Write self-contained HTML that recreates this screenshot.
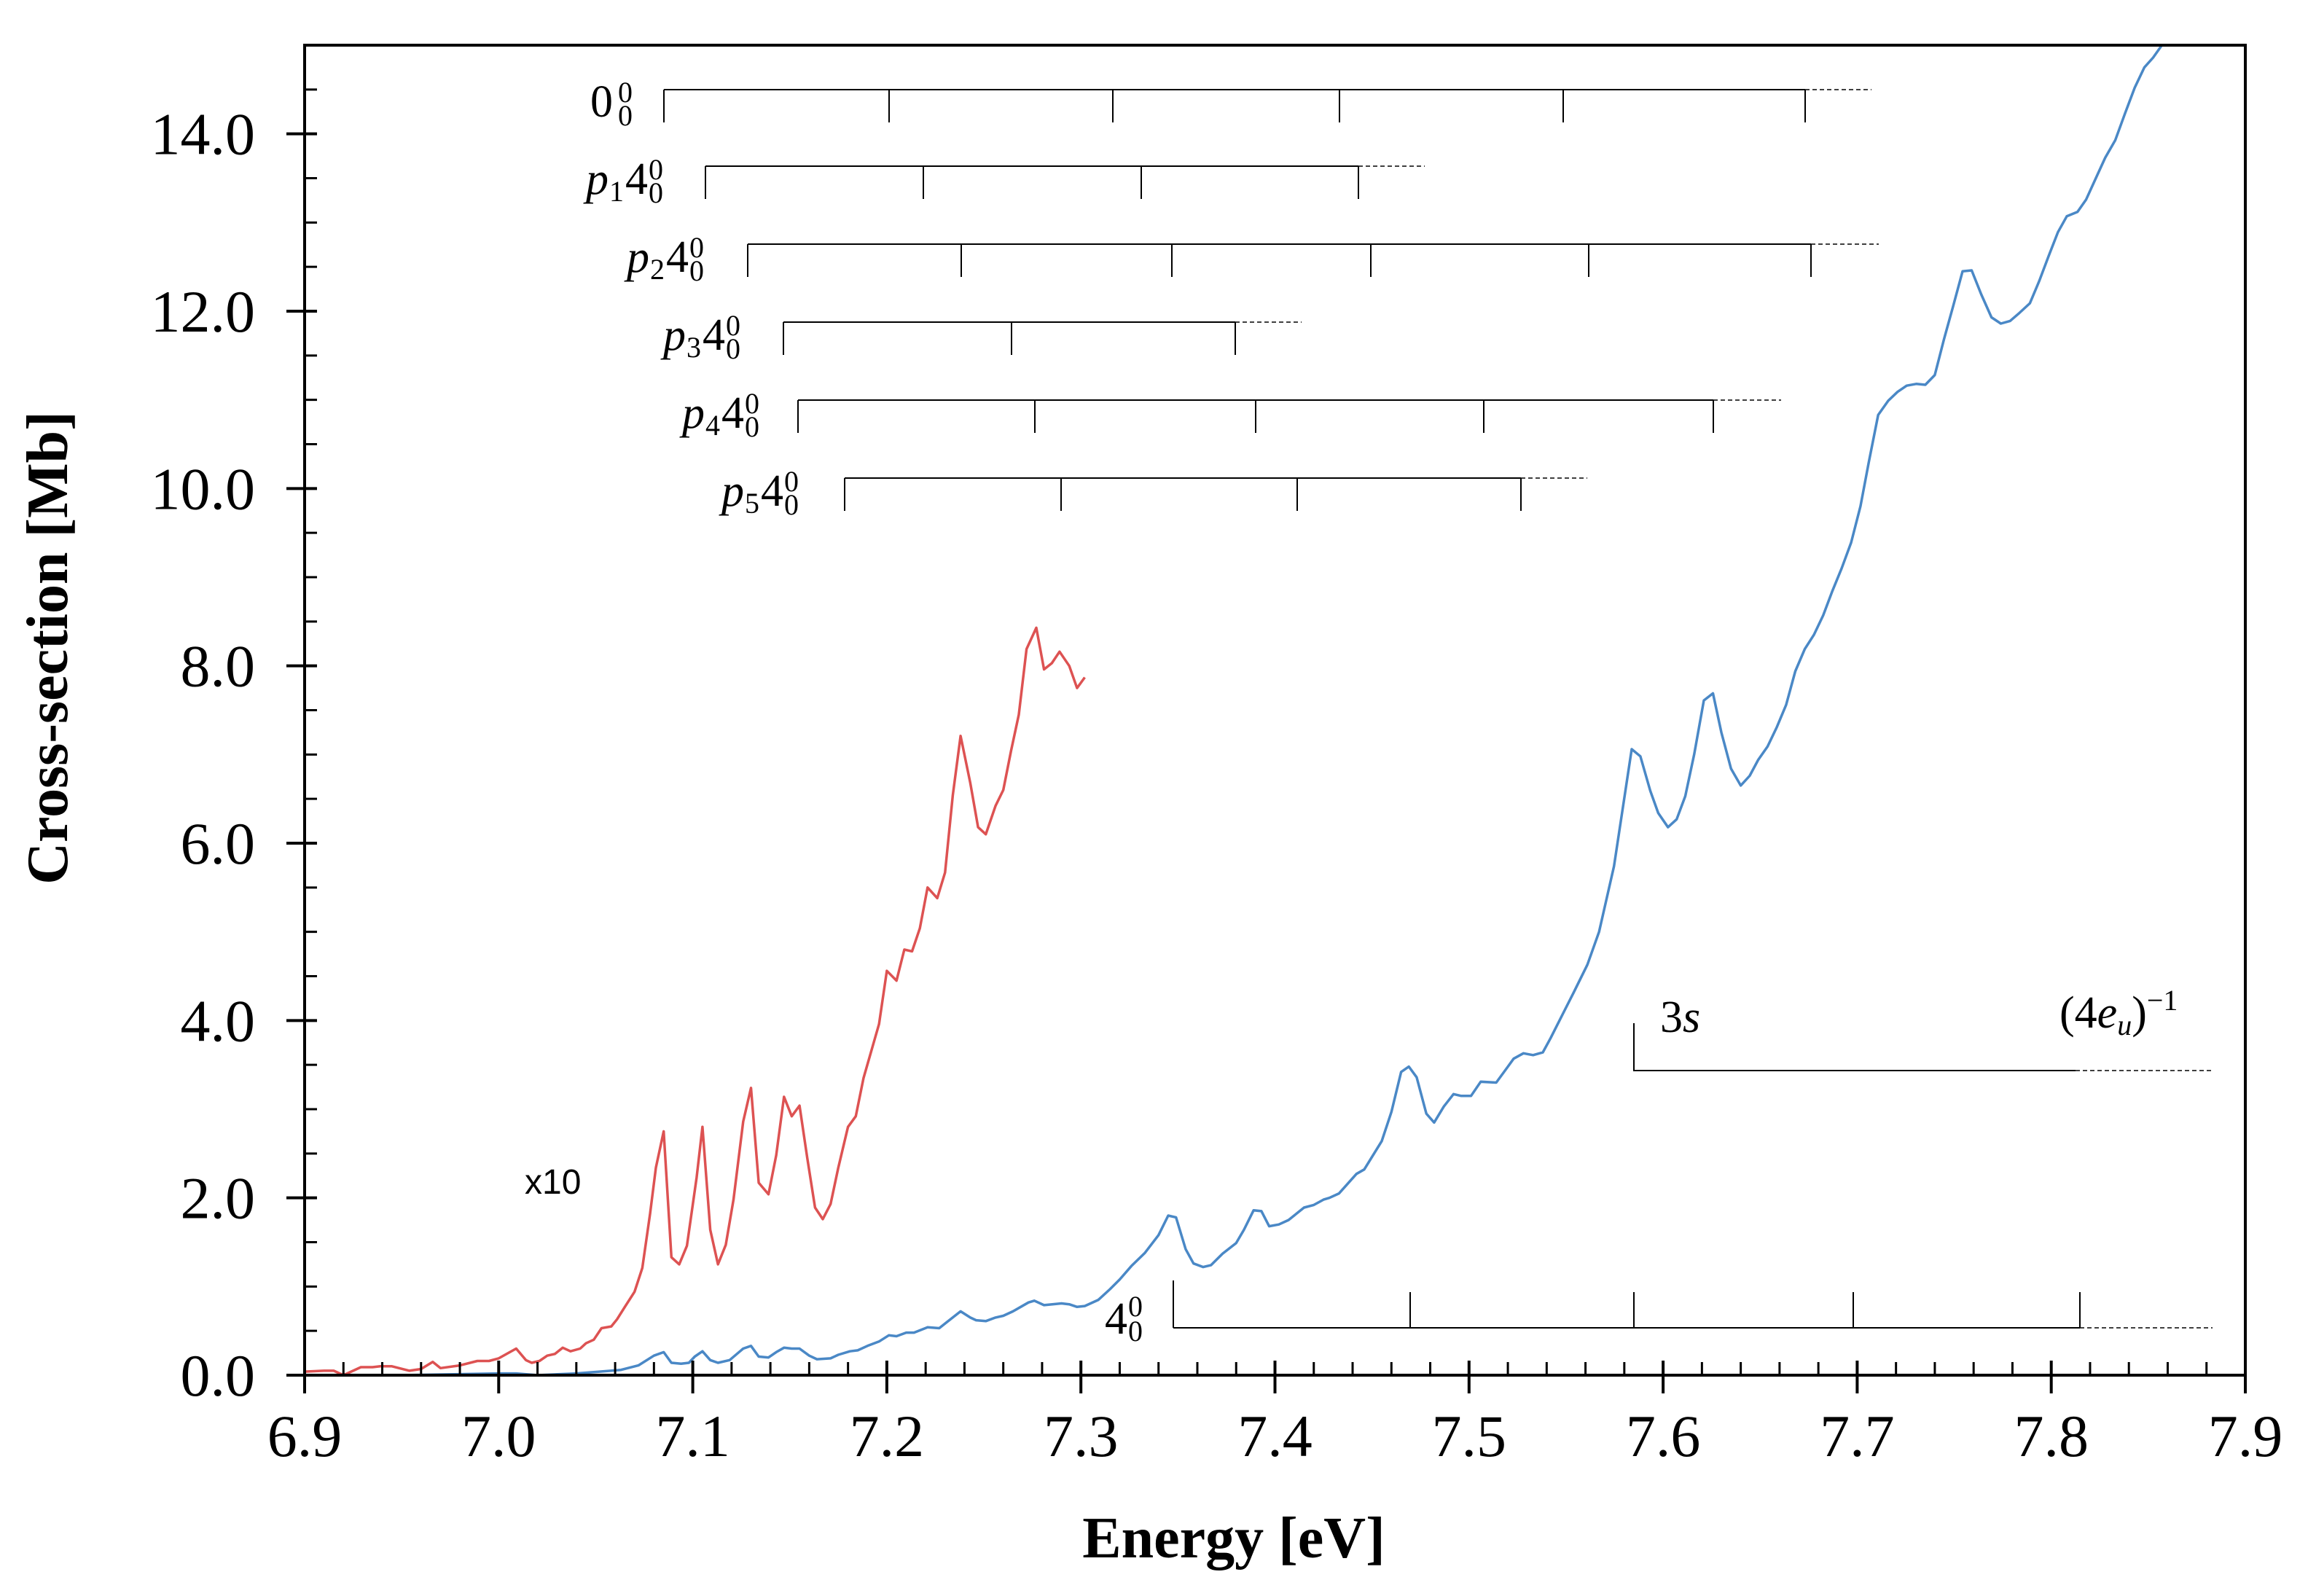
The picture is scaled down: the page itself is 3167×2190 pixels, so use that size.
<!DOCTYPE html>
<html><head><meta charset="utf-8"><title>Cross-section vs Energy</title>
<style>
html,body{margin:0;padding:0;background:#fff;}
svg{display:block;}
</style></head>
<body>
<svg id="chart" width="3167" height="2190" viewBox="0 0 3167 2190" xmlns="http://www.w3.org/2000/svg" font-family="'Liberation Serif', serif"></svg>
<script>
const redE=[6.9,6.91,6.915,6.92,6.929,6.935,6.939,6.945,6.954,6.96,6.966,6.97,6.98,6.989,6.995,7.0,7.009,7.014,7.017,7.021,7.025,7.029,7.033,7.037,7.042,7.045,7.049,7.053,7.058,7.061,7.065,7.070,7.074,7.078,7.081,7.085,7.089,7.093,7.097,7.102,7.105,7.109,7.113,7.117,7.121,7.126,7.130,7.134,7.139,7.143,7.147,7.151,7.155,7.159,7.163,7.167,7.171,7.175,7.180,7.184,7.188,7.196,7.200,7.205,7.209,7.213,7.217,7.221,7.226,7.230,7.234,7.238,7.243,7.247,7.251,7.256,7.260,7.264,7.268,7.272,7.277,7.281,7.285,7.289,7.294,7.298,7.302];
const redV=[0.04,0.05,0.05,0.0,0.09,0.09,0.1,0.1,0.05,0.07,0.15,0.08,0.11,0.16,0.16,0.19,0.3,0.17,0.14,0.16,0.22,0.24,0.31,0.27,0.3,0.36,0.4,0.53,0.55,0.63,0.77,0.94,1.21,1.82,2.34,2.75,1.33,1.25,1.46,2.23,2.8,1.64,1.25,1.47,1.98,2.86,3.24,2.17,2.04,2.48,3.14,2.92,3.04,2.45,1.89,1.76,1.93,2.34,2.8,2.92,3.35,3.96,4.56,4.45,4.8,4.78,5.04,5.5,5.38,5.67,6.54,7.21,6.68,6.18,6.1,6.42,6.6,7.04,7.45,8.19,8.43,7.96,8.03,8.16,8.0,7.75,7.87];
const blueE=[6.9,6.95,7.0,7.009,7.02,7.04,7.052,7.063,7.072,7.08,7.085,7.089,7.094,7.098,7.101,7.105,7.109,7.113,7.119,7.126,7.130,7.134,7.139,7.143,7.147,7.151,7.155,7.160,7.164,7.171,7.175,7.181,7.185,7.190,7.196,7.201,7.205,7.210,7.214,7.221,7.227,7.231,7.238,7.243,7.246,7.251,7.256,7.260,7.265,7.269,7.273,7.276,7.281,7.29,7.294,7.298,7.302,7.309,7.315,7.32,7.326,7.333,7.340,7.345,7.349,7.354,7.358,7.363,7.367,7.373,7.380,7.384,7.389,7.393,7.397,7.402,7.407,7.415,7.420,7.425,7.428,7.433,7.442,7.446,7.455,7.460,7.465,7.469,7.473,7.478,7.482,7.487,7.492,7.496,7.501,7.506,7.514,7.520,7.523,7.528,7.533,7.538,7.542,7.548,7.554,7.561,7.567,7.5747,7.5838,7.5883,7.5934,7.5975,7.6025,7.607,7.6114,7.616,7.621,7.6257,7.630,7.635,7.640,7.6446,7.649,7.6538,7.6586,7.6634,7.6681,7.673,7.6777,7.6825,7.6873,7.692,7.6969,7.7017,7.706,7.7108,7.716,7.7208,7.7255,7.7304,7.7351,7.74,7.7447,7.7495,7.7543,7.759,7.7639,7.7692,7.774,7.7788,7.7836,7.789,7.7938,7.7986,7.8034,7.808,7.8135,7.818,7.823,7.8278,7.833,7.838,7.843,7.848,7.8525,7.857];
const blueV=[0.0,0.0,0.02,0.02,0.0,0.02,0.04,0.06,0.11,0.22,0.26,0.14,0.13,0.14,0.21,0.27,0.17,0.14,0.17,0.3,0.33,0.21,0.2,0.26,0.31,0.3,0.3,0.22,0.18,0.19,0.23,0.27,0.28,0.33,0.38,0.45,0.44,0.48,0.48,0.54,0.53,0.6,0.72,0.65,0.62,0.61,0.65,0.67,0.72,0.77,0.82,0.84,0.79,0.81,0.8,0.77,0.78,0.85,0.97,1.08,1.23,1.38,1.58,1.8,1.78,1.42,1.26,1.22,1.24,1.37,1.49,1.64,1.86,1.85,1.68,1.7,1.75,1.89,1.92,1.98,2.0,2.05,2.27,2.32,2.64,2.97,3.42,3.48,3.36,2.95,2.85,3.03,3.17,3.15,3.15,3.31,3.3,3.48,3.57,3.63,3.61,3.64,3.8,4.06,4.32,4.63,5.0,5.74,7.06,6.98,6.59,6.34,6.18,6.27,6.53,7.0,7.61,7.69,7.25,6.84,6.65,6.76,6.94,7.09,7.31,7.56,7.94,8.19,8.35,8.57,8.85,9.1,9.39,9.8,10.3,10.83,10.99,11.09,11.16,11.18,11.17,11.28,11.68,12.06,12.45,12.46,12.19,11.93,11.86,11.89,11.98,12.09,12.34,12.62,12.89,13.07,13.12,13.26,13.5,13.73,13.93,14.23,14.52,14.75,14.86,15.0];
const xTickLabels=["6.9","7.0","7.1","7.2","7.3","7.4","7.5","7.6","7.7","7.8","7.9"];
const yTickLabels=["0.0","2.0","4.0","6.0","8.0","10.0","12.0","14.0"];

const NS="http://www.w3.org/2000/svg";
const svg=document.getElementById('chart');
const L=418,R=3081,T=62,B=1887,X0=6.9,X1=7.9,Y1=15;
function xs(e){return L+(e-X0)/(X1-X0)*(R-L);}
function ys(v){return B-v/Y1*(B-T);}
function mk(tag,attrs,parent){const el=document.createElementNS(NS,tag);for(const k in attrs)el.setAttribute(k,attrs[k]);(parent||svg).appendChild(el);return el;}

function series(E,V,color,w,name){
  let d='';E.forEach((e,i)=>{d+=(i?'L':'M')+xs(e).toFixed(1)+' '+ys(Math.min(V[i],Y1)).toFixed(1);});
  const p=mk('path',{d:d,fill:'none',stroke:color,'stroke-width':w,'stroke-linejoin':'round'});
  
  
}
series(blueE,blueV,'#4a88c6',3.5,'blue-cross-section-line');
series(redE,redV,'#dd5252',3.5,'red-x10-line');

const frame=mk('rect',{x:L,y:T,width:R-L,height:B-T,fill:'none',stroke:'#000','stroke-width':4});



for(let i=0;i<=50;i++){
  const e=X0+i*0.02,x=xs(e),major=i%5===0;
  const t=mk('line',{x1:x,x2:x,y1:major?B-20:B-18,y2:major?B+25:B,stroke:'#000','stroke-width':major?4:3});
  
  
}
xTickLabels.forEach((lab,i)=>{
  const tx=mk('text',{x:xs(X0+i*0.1),y:1998,'font-size':82,'text-anchor':'middle',fill:'#000'});
  tx.textContent=lab;
  
  
});
for(let i=0;i<=30;i++){
  const v=i*0.5,y=ys(v),major=i%4===0;
  if(v>Y1)break;
  const t=mk('line',{x1:major?L-25:L,x2:L+17,y1:y,y2:y,stroke:'#000','stroke-width':major?4:3});
  
  
}
yTickLabels.forEach((lab,i)=>{
  const tx=mk('text',{x:350,y:ys(i*2)+28,'font-size':82,'text-anchor':'end',fill:'#000'});
  tx.textContent=lab;
  
  
});
</script>
<svg style="position:absolute;left:0;top:0" width="3167" height="2190" viewBox="0 0 3167 2190" font-family="'Liberation Serif', serif">
<text x="1693" y="2137" font-size="80" font-weight="bold" text-anchor="middle">Energy [eV]</text>
<text transform="translate(92,889) rotate(-90)" font-size="80" font-weight="bold" text-anchor="middle">Cross-section [Mb]</text>
<text x="720" y="1638" font-size="48" font-family="'Liberation Sans', sans-serif">x10</text>
<g stroke="#000" stroke-width="2" fill="none">
<path d="M911 123H2477M911 123V168M1220 123V168M1527 123V168M1838 123V168M2145 123V168M2477 123V168"/>
<path d="M968 228H1864M968 228V273M1267 228V273M1566 228V273M1864 228V273"/>
<path d="M1026 335H2485M1026 335V380M1319 335V380M1608 335V380M1881 335V380M2180 335V380M2485 335V380"/>
<path d="M1075 442H1695M1075 442V487M1388 442V487M1695 442V487"/>
<path d="M1095 549H2351M1095 549V594M1420 549V594M1723 549V594M2036 549V594M2351 549V594"/>
<path d="M1159 656H2087M1159 656V701M1456 656V701M1780 656V701M2087 656V701"/>
<path d="M1610 1822H2854M1610 1757V1822M1935 1773V1822M2242 1773V1822M2543 1773V1822M2854 1773V1822"/>
<path d="M2242 1404V1469H2848"/>
</g>
<g stroke="#000" stroke-width="1.5" stroke-dasharray="6 4" fill="none">
<path d="M2477 123H2568M1864 228H1955M2485 335H2578M1695 442H1786M2351 549H2444M2087 656H2178M2854 1822H3036M2848 1469H3034"/>
</g>
<g font-size="62" fill="#000">
<text x="810" y="160">0</text><text x="848" y="140" font-size="40">0</text><text x="848" y="172" font-size="40">0</text>
<text x="804" y="266" font-style="italic">p</text><text x="836" y="276" font-size="40">1</text><text x="858" y="266">4</text><text x="890" y="246" font-size="40">0</text><text x="890" y="278" font-size="40">0</text>
<text x="860" y="373" font-style="italic">p</text><text x="892" y="383" font-size="40">2</text><text x="914" y="373">4</text><text x="946" y="353" font-size="40">0</text><text x="946" y="385" font-size="40">0</text>
<text x="910" y="480" font-style="italic">p</text><text x="942" y="490" font-size="40">3</text><text x="964" y="480">4</text><text x="996" y="460" font-size="40">0</text><text x="996" y="492" font-size="40">0</text>
<text x="936" y="587" font-style="italic">p</text><text x="968" y="597" font-size="40">4</text><text x="990" y="587">4</text><text x="1022" y="567" font-size="40">0</text><text x="1022" y="599" font-size="40">0</text>
<text x="990" y="694" font-style="italic">p</text><text x="1022" y="704" font-size="40">5</text><text x="1044" y="694">4</text><text x="1076" y="674" font-size="40">0</text><text x="1076" y="706" font-size="40">0</text>
<text x="1516" y="1830">4</text><text x="1548" y="1806" font-size="40">0</text><text x="1548" y="1840" font-size="40">0</text>
<text x="2278" y="1416">3<tspan font-style="italic">s</tspan></text>
<text x="2826" y="1410">(4<tspan font-style="italic">e</tspan><tspan font-size="40" font-style="italic" dy="10">u</tspan><tspan dy="-10">)</tspan><tspan font-size="40" dy="-24">−1</tspan></text>
</g>
</svg>
</body></html>
